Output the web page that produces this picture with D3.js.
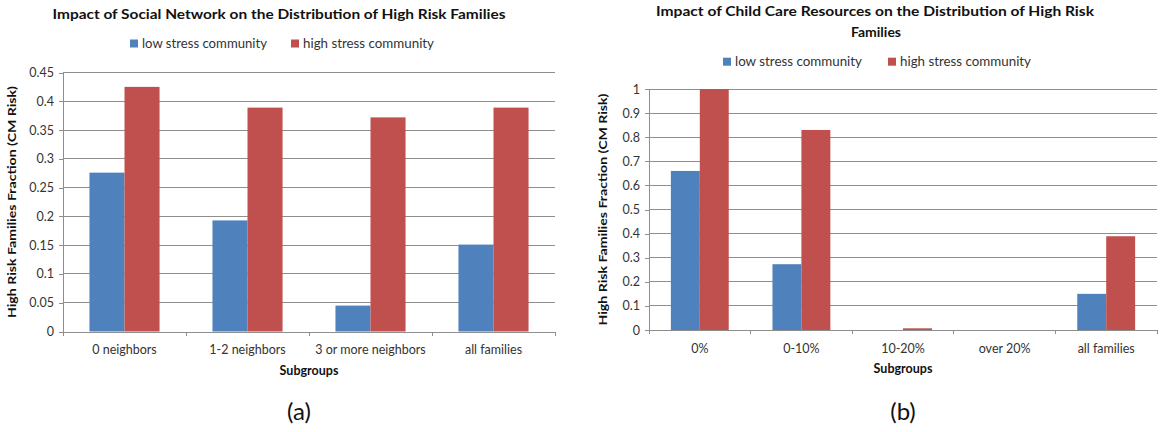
<!DOCTYPE html>
<html>
<head>
<meta charset="utf-8">
<script src="https://cdn.jsdelivr.net/npm/d3@7"></script>
<style>
  html, body { margin: 0; padding: 0; background: #fff; }
  svg { display: block; font-family: Lato, "Open Sans", sans-serif; }
</style>
</head>
<body>
<svg id="chart" width="1164" height="432"></svg>
<script>
// ---------- DATA ----------
const seriesNames = ["low stress community", "high stress community"];
const seriesColors = ["#4F81BD", "#C0504D"];

const categoriesA = ["0 neighbors", "1-2 neighbors", "3 or more neighbors", "all families"];
const lowStressA  = [0.276, 0.193, 0.045, 0.151];
const highStressA = [0.425, 0.389, 0.372, 0.389];
const yTicksA = [0, 0.05, 0.1, 0.15, 0.2, 0.25, 0.3, 0.35, 0.4, 0.45];

const categoriesB = ["0%", "0-10%", "10-20%", "over 20%", "all families"];
const lowStressB  = [0.660, 0.273, 0, 0, 0.150];
const highStressB = [1.0, 0.830, 0.007, 0, 0.389];
const yTicksB = [0, 0.1, 0.2, 0.3, 0.4, 0.5, 0.6, 0.7, 0.8, 0.9, 1];

const titleA = ["Impact of Social Network on the Distribution of High Risk Families"];
const titleB = ["Impact of Child Care Resources on the Distribution of High Risk", "Families"];
const yTitle = "High Risk Families Fraction (CM Risk)";
const xTitle = "Subgroups";

// ---------- DRAW ----------
const svg = d3.select("#chart");

function fit(sel, w) {
  if (w) sel.attr("textLength", w).attr("lengthAdjust", "spacingAndGlyphs");
  return sel;
}

function drawChart(cfg) {
  const g = svg.append("g");
  const x = d3.scaleBand().domain(cfg.categories).range([cfg.left, cfg.right]).padding(0);
  const x1 = d3.scaleBand().domain(seriesNames).range([0, x.bandwidth()])
    .paddingInner(0).paddingOuter(0.755);
  const y = d3.scaleLinear().domain([0, d3.max(cfg.yTicks)]).range([cfg.bottom, cfg.top]);

  // gridlines
  g.append("g").selectAll("line").data(cfg.yTicks.filter(d => d > 0)).join("line")
    .attr("x1", cfg.left).attr("x2", cfg.right)
    .attr("y1", d => y(d)).attr("y2", d => y(d))
    .attr("stroke", "#8e8e8e").attr("stroke-width", 1).attr("shape-rendering", "crispEdges");

  // bars
  const rows = cfg.categories.map((c, i) => ({ c, vals: [cfg.low[i], cfg.high[i]] }));
  const grp = g.append("g").selectAll("g").data(rows).join("g")
    .attr("transform", d => `translate(${x(d.c)},0)`);
  grp.selectAll("rect").data(d => d.vals.map((v, k) => ({ v, k }))).join("rect")
    .attr("x", d => x1(seriesNames[d.k]))
    .attr("width", x1.bandwidth())
    .attr("y", d => y(d.v))
    .attr("height", d => y(0) - y(d.v))
    .attr("fill", d => seriesColors[d.k]);

  // y axis
  const yAxis = d3.axisLeft(y).tickValues(cfg.yTicks).tickSize(4).tickSizeOuter(0).tickPadding(5)
    .tickFormat(d => String(+d.toFixed(2)));
  const ya = g.append("g").attr("transform", `translate(${cfg.left},0)`).call(yAxis);
  ya.select(".domain").attr("stroke", "#8e8e8e").attr("shape-rendering", "crispEdges");
  ya.selectAll(".tick line").attr("stroke", "#8e8e8e").attr("shape-rendering", "crispEdges");
  ya.selectAll(".tick text").attr("font-size", 12.5).attr("fill", "#333").attr("font-family", "Lato, sans-serif");

  // x axis
  const xAxis = d3.axisBottom(x).tickSize(0).tickPadding(14);
  const xa = g.append("g").attr("transform", `translate(0,${cfg.bottom})`).call(xAxis);
  xa.select(".domain").attr("stroke", "#8e8e8e").attr("shape-rendering", "crispEdges");
  xa.selectAll(".tick text").attr("font-size", 12.5).attr("fill", "#333").attr("font-family", "Lato, sans-serif");
  const bounds = cfg.categories.map(c => x(c)).concat([x(cfg.categories[cfg.categories.length - 1]) + x.bandwidth()]);
  g.append("g").selectAll("line").data(bounds).join("line")
    .attr("x1", d => d).attr("x2", d => d)
    .attr("y1", cfg.bottom).attr("y2", cfg.bottom + 4)
    .attr("stroke", "#8e8e8e").attr("shape-rendering", "crispEdges");

  // titles
  cfg.title.forEach((t, i) => {
    const tt = g.append("text").attr("x", cfg.titleX[i]).attr("y", cfg.titleY[i])
      .attr("text-anchor", "middle").attr("font-size", 14).attr("font-weight", "bold")
      .attr("fill", "#111").text(t);
    fit(tt, cfg.titleW[i]);
  });

  // legend
  seriesNames.forEach((s, k) => {
    g.append("rect").attr("x", cfg.legendX[k]).attr("y", cfg.legendY - 4)
      .attr("width", 8).attr("height", 8).attr("fill", seriesColors[k]);
    const lt = g.append("text").attr("x", cfg.legendX[k] + 12).attr("y", cfg.legendY + 4.5)
      .attr("font-size", 12.5).attr("fill", "#333").text(s);
    fit(lt, cfg.legendW[k]);
  });

  // axis titles
  const yt = g.append("text")
    .attr("transform", `translate(${cfg.yTitleX},${(cfg.top + cfg.bottom) / 2}) rotate(-90)`)
    .attr("text-anchor", "middle").attr("font-size", 12).attr("font-weight", "bold")
    .attr("dy", "0.35em").attr("fill", "#111").text(yTitle);
  fit(yt, 232);

  g.append("text").attr("x", (cfg.left + cfg.right) / 2).attr("y", cfg.bottom + 43)
    .attr("text-anchor", "middle").attr("font-size", 12.5).attr("font-weight", "bold")
    .attr("fill", "#111").text(xTitle);

  g.append("text").attr("x", cfg.labelX).attr("y", 420)
    .attr("text-anchor", "middle").attr("font-size", 24).attr("fill", "#111")
    .text(cfg.label);
}

drawChart({
  categories: categoriesA, low: lowStressA, high: highStressA, yTicks: yTicksA,
  left: 63, right: 555, top: 72.5, bottom: 331.5,
  title: titleA, titleX: [279], titleY: [19], titleW: [453],
  legendX: [130, 291], legendY: 43.5, legendW: [125, 131],
  yTitleX: 12, labelX: 299, label: "(a)"
});

drawChart({
  categories: categoriesB, low: lowStressB, high: highStressB, yTicks: yTicksB,
  left: 649, right: 1157, top: 89, bottom: 330,
  title: titleB, titleX: [875, 876], titleY: [16, 37], titleW: [438, null],
  legendX: [723, 888], legendY: 61.7, legendW: [127, 131],
  yTitleX: 603, labelX: 903, label: "(b)"
});
</script>
</body>
</html>
